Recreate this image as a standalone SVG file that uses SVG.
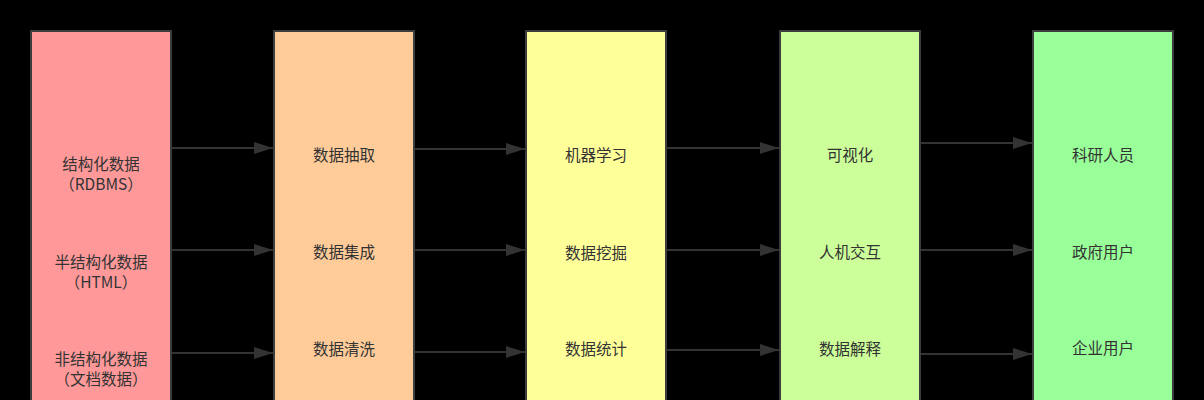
<svg xmlns="http://www.w3.org/2000/svg" width="1204" height="400" viewBox="0 0 1204 400">
<defs>
<style>
.box{stroke:#3c3c3c;stroke-width:2}
.lbl{font-family:"Noto Sans CJK SC","Liberation Sans",sans-serif;font-size:15.5px;fill:#333333;text-anchor:middle}
.edge{stroke:#333333;stroke-width:2;fill:none;marker-end:url(#ah)}
</style>
<marker id="ah" markerUnits="userSpaceOnUse" markerWidth="20" markerHeight="14" refX="19" refY="6" orient="auto">
<path d="M0,0 L19,6 L0,12 z" fill="#333333"/>
</marker>
</defs>
<rect width="1204" height="400" fill="#000000"/>
<g id="col1">
<rect class="box" x="31" y="31" width="140" height="380" fill="#ff9999"/>
<text class="lbl" x="101" y="170">结构化数据</text>
<text class="lbl" x="101" y="190">（RDBMS）</text>
<text class="lbl" x="101" y="268">半结构化数据</text>
<text class="lbl" x="101" y="288">（HTML）</text>
<text class="lbl" x="101" y="365">非结构化数据</text>
<text class="lbl" x="101" y="385">（文档数据）</text>
</g>
<g id="col2">
<rect class="box" x="274" y="31" width="140" height="380" fill="#ffcc99"/>
<text class="lbl" x="344" y="161">数据抽取</text>
<text class="lbl" x="344" y="258">数据集成</text>
<text class="lbl" x="344" y="355">数据清洗</text>
</g>
<g id="col3">
<rect class="box" x="526" y="31" width="140" height="380" fill="#ffff99"/>
<text class="lbl" x="596" y="161">机器学习</text>
<text class="lbl" x="596" y="259">数据挖掘</text>
<text class="lbl" x="596" y="355">数据统计</text>
</g>
<g id="col4">
<rect class="box" x="780" y="31" width="140" height="380" fill="#ccff99"/>
<text class="lbl" x="850" y="161">可视化</text>
<text class="lbl" x="850" y="258">人机交互</text>
<text class="lbl" x="850" y="355">数据解释</text>
</g>
<g id="col5">
<rect class="box" x="1033" y="31" width="140" height="380" fill="#99ff99"/>
<text class="lbl" x="1103" y="161">科研人员</text>
<text class="lbl" x="1103" y="258">政府用户</text>
<text class="lbl" x="1103" y="354">企业用户</text>
</g>
<g id="connectors">
<line class="edge" x1="172" y1="148" x2="273" y2="148"/>
<line class="edge" x1="172" y1="250" x2="273" y2="250"/>
<line class="edge" x1="172" y1="353" x2="273" y2="353"/>
<line class="edge" x1="415" y1="149" x2="525" y2="149"/>
<line class="edge" x1="415" y1="250" x2="525" y2="250"/>
<line class="edge" x1="415" y1="352" x2="525" y2="352"/>
<line class="edge" x1="667" y1="148" x2="779" y2="148"/>
<line class="edge" x1="667" y1="250" x2="779" y2="250"/>
<line class="edge" x1="667" y1="350" x2="779" y2="350"/>
<line class="edge" x1="921" y1="143" x2="1032" y2="143"/>
<line class="edge" x1="921" y1="250" x2="1032" y2="250"/>
<line class="edge" x1="921" y1="354" x2="1032" y2="354"/>
</g>
</svg>
